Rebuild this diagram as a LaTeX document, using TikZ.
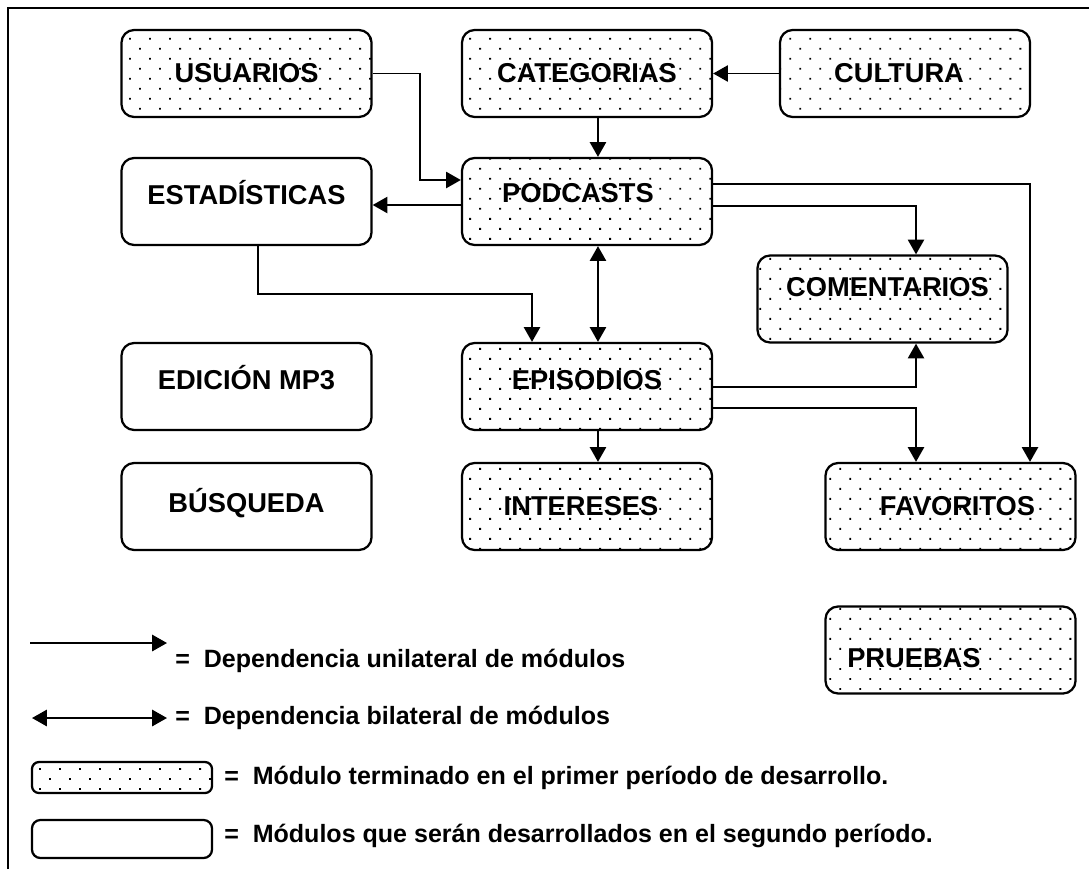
\documentclass[tikz,border=0pt]{standalone}
\usepackage{fontspec}
\setmainfont{Liberation Sans}
\usetikzlibrary{arrows.meta,patterns.meta,calc}

\newcommand{\boxfont}{\fontsize{19.4}{23}\selectfont\bfseries}
\newcommand{\legfont}{\fontsize{17.8}{21}\selectfont\bfseries}

\begin{document}
\begin{tikzpicture}[x=0.025cm, y=-0.025cm]

\def\boxw{6.25cm}
\def\boxh{2.175cm}
\def\off{7.8pt}

% Styles
\tikzstyle{module}=[draw, line width=1.6pt, rounded corners=9pt, minimum width=\boxw, minimum height=\boxh, inner sep=0pt, font=\boxfont]
\tikzstyle{done module}=[module, pattern={Dots[distance=10.06pt, angle=45, radius=0.95pt]}]
\tikzstyle{dependency}=[line width=1.4pt, -{Triangle[length=10.5pt, width=11.5pt]}]
\tikzstyle{both dependency}=[line width=1.4pt, {Triangle[length=10.5pt, width=11.5pt]}-{Triangle[length=10.5pt, width=11.5pt]}]
\tikzstyle{legend text}=[anchor=west, inner sep=0pt, font=\legfont]

\useasboundingbox (0,0) rectangle (1089,869);

% Frame
\draw[line width=1.6pt] (8,869) -- (8,8) -- (1089,8);

% Modules
\node[done module] (usuarios) at (246.5,73.5) {USUARIOS};
\node[done module] (categorias) at (587,73.5) {CATEGORIAS};
\node[done module] (cultura) at (905,73.5) {CULTURA\hspace*{8.5pt}};
\node[module, text depth=13.3pt] (estadisticas) at (246.5,201.5) {ESTADÍSTICAS};
\node[done module, text depth=12pt] (podcasts) at (587,201.5) {PODCASTS\hspace*{12.8pt}};
\node[done module, text depth=17pt] (comentarios) at (882.5,299) {\hspace*{7pt}COMENTARIOS};
\node[module, text depth=13.3pt] (edicion) at (246.5,386.5) {EDICIÓN MP3};
\node[done module, text depth=10pt] (episodios) at (587,386.5) {EPISODIOS};
\node[module, text depth=8pt] (busqueda) at (246.5,506.5) {BÚSQUEDA};
\node[done module] (intereses) at (587,506.5) {INTERESES\hspace*{8.5pt}};
\node[done module] (favoritos) at (950.5,506.5) {\hspace*{10pt}FAVORITOS};
\node[done module, text height=24.6pt] (pruebas) at (950.5,650) {PRUEBAS\hspace*{52pt}};

% Dependencies
\draw[dependency] (usuarios.east) -- ++(47,0) |- ($(podcasts.west)+(0,-21.5)$);
\draw[dependency] (cultura) -- (categorias);
\draw[dependency] ([xshift=\off]categorias.south) -- ([xshift=\off]podcasts.north);
\draw[dependency] ($(podcasts.west)+(0,3.5)$) -- ($(estadisticas.east)+(0,3.5)$);
\draw[dependency] ([xshift=8pt]estadisticas.south) -- ++(0,48) -| ($(episodios.north)+(-55,0)$);
\draw[both dependency] ([xshift=\off]podcasts.south) -- ([xshift=\off]episodios.north);
\draw[dependency] ($(podcasts.east)+(0,-17.5)$) -| ($(favoritos.north)+(79.5,0)$);
\draw[dependency] ($(podcasts.east)+(0,4.5)$) -| ($(comentarios.north)+(33.5,0)$);
\draw[dependency] ($(episodios.east)+(0,0.5)$) -| ($(comentarios.south)+(33.5,0)$);
\draw[dependency] ($(episodios.east)+(0,21.5)$) -| ($(favoritos.north)+(-34.5,0)$);
\draw[dependency] ([xshift=\off]episodios.south) -- ([xshift=\off]intereses.north);

% Legend
\coordinate (uni start) at (30,643);
\coordinate (uni end) at (167,643);
\draw[dependency] (uni start) -- (uni end);
\node[legend text] (uni text) at (175,661) {=\ \ Dependencia unilateral de módulos};

\coordinate (bi start) at (32,718);
\coordinate (bi end) at (167,718);
\draw[both dependency] (bi start) -- (bi end);
\node[legend text] (bi text) at (175,718) {=\ \ Dependencia bilateral de módulos};

\node[done module, minimum width=4.5cm, minimum height=0.775cm, rounded corners=5pt] (done key) at (122,777.5) {};
\node[legend text] (done text) at (224,777.5) {=\ \ Módulo terminado en el primer período de desarrollo.};

\node[module, minimum width=4.5cm, minimum height=0.95cm, rounded corners=6pt] (todo key) at (122,839) {};
\node[legend text] (todo text) at (224,836) {=\ \ Módulos que serán desarrollados en el segundo período.};

\end{tikzpicture}
\end{document}
